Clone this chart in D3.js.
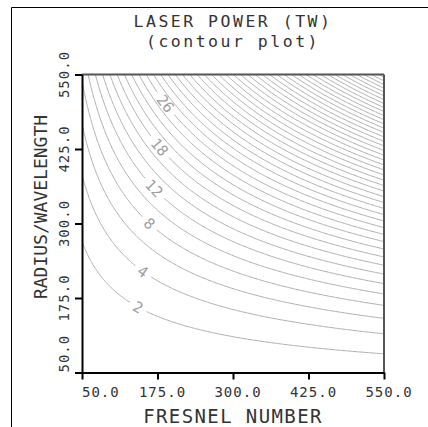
<!DOCTYPE html>
<html><head><meta charset="utf-8">
<script src="https://cdn.jsdelivr.net/npm/d3@7"></script>
<style>html,body{margin:0;padding:0;background:#fff;}svg{display:block;}</style>
</head><body>
<script>
// ---- data ----
const fresnelDomain = [50, 550];
const radiusDomain = [50, 550];
const xTickValues = [50, 175, 300, 425, 550];
const xTickLabels = ["50.0", "175.0", "300.0", "425.0", "550.0"];
const yTickValues = [50, 175, 300, 425, 550];
const yTickLabels = ["50.0", "175.0", "300.0", "425.0", "550.0"];
const contourLevels = [2,4,6,8,10,12,14,16,18,20,22,24,26,28,30,32,34,36,38,40,42,44,46,48,50,52,54,56,58,60,62,64,66,68,70,72,74,76,78,80,82,84,86,88,90,92];
const labelLevels = [2, 4, 8, 12, 18, 26];
// power field P = coef * F^a * R^b (TW)
const powerCoef = [5.5e-7];
const powerExpF = [1.0];
const powerExpR = [2.0];
const titleLines = ["LASER POWER (TW)", "(contour plot)"];
const xTitle = "FRESNEL NUMBER";
const yTitle = "RADIUS/WAVELENGTH";

const power = (F, R) => powerCoef[0] * Math.pow(F, powerExpF[0]) * Math.pow(R, powerExpR[0]);

// ---- layout ----
const W = 428, H = 427;
const L = 82, Rg = 384, T = 74.5, B = 372.5;
const font = "'DejaVu Sans Mono', 'Liberation Mono', monospace";
const textColor = "#333";

const svg = d3.select("body").append("svg").attr("width", W).attr("height", H);
const defs = svg.append("defs");

const x = d3.scaleLinear().domain(fresnelDomain).range([L, Rg]);
const y = d3.scaleLinear().domain(radiusDomain).range([B, T]);

// outer frame lines
svg.append("line").attr("x1", 11.5).attr("x2", 11.5).attr("y1", 7.5).attr("y2", H).attr("stroke", "#000").attr("stroke-width", 1);
svg.append("line").attr("x1", 11.5).attr("x2", W).attr("y1", 7.5).attr("y2", 7.5).attr("stroke", "#000").attr("stroke-width", 1);

// ---- contour grid ----
const step = 2, g0 = 40, g1 = 560;
const n = Math.round((g1 - g0) / step) + 1;
const values = new Float64Array(n * n);
for (let j = 0; j < n; j++) for (let i = 0; i < n; i++) values[j * n + i] = power(g0 + i * step, g0 + j * step);
const contours = d3.contours().size([n, n]).thresholds(contourLevels)(values);
const proj = d3.geoTransform({
  point: function (px, py) { this.stream.point(x(g0 + (px - 0.5) * step), y(g0 + (py - 0.5) * step)); }
});
const path = d3.geoPath(proj);

defs.append("clipPath").attr("id", "plotclip").append("rect")
  .attr("x", L).attr("y", T).attr("width", Rg - L).attr("height", B - T);

// label placement along a diagonal in pixel space
const A = [138, 308], Bp = [165, 107];
function labelPoint(level) {
  let lo = -0.6, hi = 1.6;
  const at = t => [A[0] + (Bp[0] - A[0]) * t, A[1] + (Bp[1] - A[1]) * t];
  for (let k = 0; k < 60; k++) {
    const mid = (lo + hi) / 2; const p = at(mid);
    if (power(x.invert(p[0]), y.invert(p[1])) < level) lo = mid; else hi = mid;
  }
  const p = at((lo + hi) / 2);
  const F = x.invert(p[0]), R = y.invert(p[1]);
  const e = 0.01;
  const dPdF = (power(F + e, R) - power(F - e, R)) / (2 * e);
  const dPdR = (power(F, R + e) - power(F, R - e)) / (2 * e);
  const kx = (Rg - L) / (fresnelDomain[1] - fresnelDomain[0]);
  const ky = (B - T) / (radiusDomain[1] - radiusDomain[0]);
  const gx = dPdF / kx, gy = -dPdR / ky;
  let ang = Math.atan2(gx, -gy) * 180 / Math.PI;
  if (ang > 90) ang -= 180; if (ang < -90) ang += 180;
  return { x: p[0], y: p[1], angle: ang };
}
const labels = labelLevels.map(l => Object.assign({ level: l }, labelPoint(l)));

labels.forEach(lb => {
  const w = String(lb.level).length * 9 + 10;
  const m = defs.append("mask").attr("id", "mask" + lb.level).attr("maskUnits", "userSpaceOnUse")
    .attr("x", 0).attr("y", 0).attr("width", W).attr("height", H);
  m.append("rect").attr("x", 0).attr("y", 0).attr("width", W).attr("height", H).attr("fill", "#fff");
  m.append("rect").attr("x", -w / 2).attr("y", -7).attr("width", w).attr("height", 14).attr("fill", "#000")
    .attr("transform", `translate(${lb.x},${lb.y}) rotate(${lb.angle})`);
});

const cg = svg.append("g").attr("clip-path", "url(#plotclip)");
cg.selectAll("path").data(contours).join("path")
  .attr("d", path)
  .attr("fill", "none")
  .attr("stroke", "#ababab")
  .attr("stroke-width", 1)
  .attr("mask", d => labelLevels.includes(d.value) ? `url(#mask${d.value})` : null);

svg.append("g").selectAll("text").data(labels).join("text")
  .attr("transform", d => `translate(${d.x},${d.y}) rotate(${d.angle})`)
  .attr("text-anchor", "middle").attr("dy", "0.36em")
  .attr("font-family", font).attr("font-size", 15).attr("fill", "#a0a0a0")
  .text(d => d.level);

// ---- frame / axes ----
svg.append("line").attr("x1", L).attr("x2", Rg).attr("y1", T).attr("y2", T).attr("stroke", "#555").attr("stroke-width", 2);
svg.append("line").attr("x1", Rg).attr("x2", Rg).attr("y1", T).attr("y2", B).attr("stroke", "#555").attr("stroke-width", 2);

const xAxis = d3.axisBottom(x).tickValues(xTickValues).tickSize(7).tickSizeOuter(0).tickFormat("");
const gxa = svg.append("g").attr("transform", `translate(0,${B})`).call(xAxis);
gxa.select(".domain").attr("stroke", "#000").attr("stroke-width", 2);
gxa.selectAll(".tick line").attr("stroke", "#000").attr("stroke-width", 2);

const yAxis = d3.axisLeft(y).tickValues(yTickValues).tickSize(7).tickSizeOuter(0).tickFormat("");
const gya = svg.append("g").attr("transform", `translate(${L},0)`).call(yAxis);
gya.select(".domain").attr("stroke", "#000").attr("stroke-width", 2);
gya.selectAll(".tick line").attr("stroke", "#000").attr("stroke-width", 2);

// tick labels
const xt = svg.append("g").selectAll("text").data(xTickValues).join("text")
  .attr("y", 397).attr("font-family", font).attr("font-size", 14).attr("letter-spacing", 1)
  .attr("fill", textColor).attr("text-anchor", "middle")
  .text((d, i) => xTickLabels[i]);
xt.attr("x", function (d) {
  const w = this.getComputedTextLength();
  return Math.max(x(d) + 5, L + w / 2);
});

const yt = svg.append("g").selectAll("text").data(yTickValues).join("text")
  .attr("font-family", font).attr("font-size", 14).attr("letter-spacing", 1)
  .attr("fill", textColor).attr("text-anchor", "middle")
  .text((d, i) => yTickLabels[i]);
yt.attr("transform", function (d) {
  const w = this.getComputedTextLength();
  const cy = Math.min(y(d), B - w / 2);
  return `translate(68.5,${cy}) rotate(-90)`;
});

// titles
svg.append("text").attr("x", 233).attr("y", 27).attr("text-anchor", "middle")
  .attr("font-family", font).attr("font-size", 16.5).attr("letter-spacing", 2.5).attr("fill", textColor)
  .text(titleLines[0]);
svg.append("text").attr("x", 233).attr("y", 47).attr("text-anchor", "middle")
  .attr("font-family", font).attr("font-size", 16.5).attr("letter-spacing", 2.5).attr("fill", textColor)
  .text(titleLines[1]);
svg.append("text").attr("x", 233).attr("y", 423).attr("text-anchor", "middle")
  .attr("font-family", font).attr("font-size", 19).attr("letter-spacing", 1.4).attr("fill", textColor)
  .text(xTitle);
svg.append("text").attr("transform", "translate(46.5,207) rotate(-90)").attr("text-anchor", "middle")
  .attr("font-family", font).attr("font-size", 18).attr("letter-spacing", 0).attr("fill", textColor)
  .text(yTitle);
</script>
</body></html>
